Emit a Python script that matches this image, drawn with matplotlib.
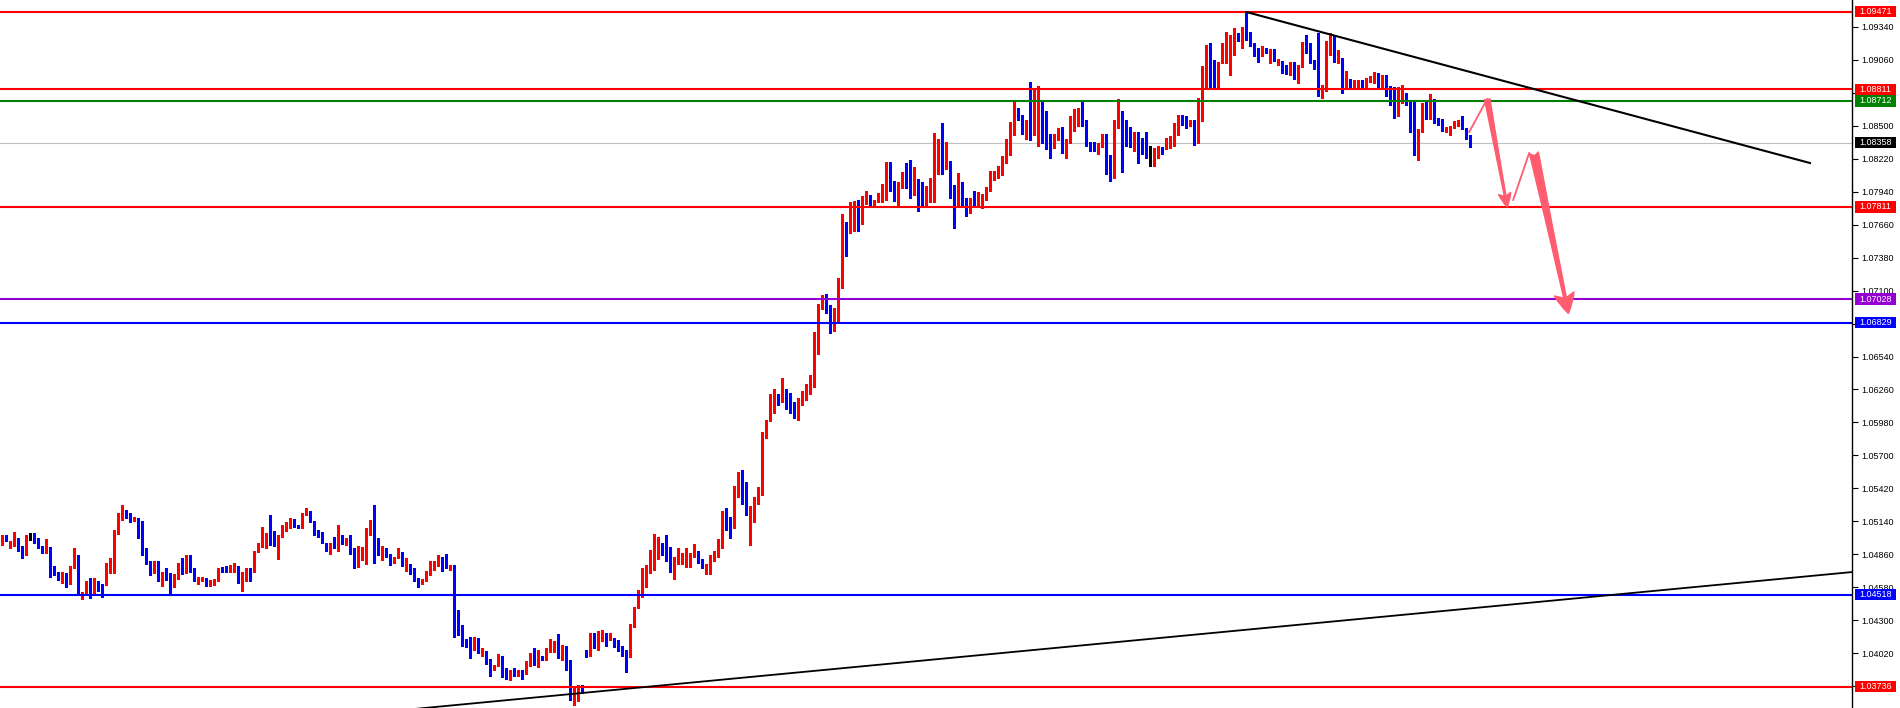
import numpy as np
import matplotlib.pyplot as plt
from matplotlib.patches import Rectangle
import matplotlib.transforms as mtransforms

plt.rcParams['font.family'] = ['Liberation Sans', 'DejaVu Sans']

# candle data (oldest first)
opens = [
    1.0500, 1.0502, 1.0491, 1.0494, 1.0500, 1.0490, 1.0485, 1.0501, 1.0502, 1.0498,
    1.0493, 1.0487, 1.0491, 1.0476, 1.0468, 1.0464, 1.0468, 1.0461, 1.0474, 1.0481,
    1.0452, 1.0453, 1.0462, 1.0458, 1.0462, 1.0460, 1.0470, 1.0471, 1.0472, 1.0503,
    1.0517, 1.0522, 1.0519, 1.0515, 1.0516, 1.0508, 1.0491, 1.0480, 1.0470, 1.0480,
    1.0467, 1.0468, 1.0466, 1.0459, 1.0467, 1.0477, 1.0471, 1.0480, 1.0474, 1.0464,
    1.0464, 1.0465, 1.0460, 1.0462, 1.0464, 1.0474, 1.0473, 1.0472, 1.04755, 1.0476,
    1.0463, 1.0468, 1.0473, 1.0471, 1.0488, 1.0493, 1.0499, 1.0502, 1.04975, 1.0497,
    1.0501, 1.0507, 1.0509, 1.0516, 1.0510, 1.0510, 1.0519, 1.0522, 1.0514, 1.0506,
    1.0505, 1.0496, 1.0490, 1.0493, 1.0493, 1.0502, 1.0496, 1.0497, 1.0491, 1.0476,
    1.0482, 1.0489, 1.0505, 1.0513, 1.0492, 1.0486, 1.0491, 1.0485, 1.0480, 1.0484,
    1.0487, 1.0476, 1.0478, 1.0470, 1.0465, 1.0462, 1.0464, 1.0470, 1.0474, 1.0478,
    1.0483, 1.0481, 1.0475, 1.0476, 1.0422, 1.0418, 1.0413, 1.0413, 1.0405, 1.0415,
    1.0402, 1.0404, 1.0396, 1.0388, 1.0391, 1.0400, 1.0383, 1.0380, 1.0386, 1.0384,
    1.0387, 1.0385, 1.0393, 1.0400, 1.0393, 1.0398, 1.0396, 1.0403, 1.0405, 1.0408,
    1.0396, 1.0400, 1.0395, 1.0364, 1.0365, 1.0372, 1.0402, 1.0400, 1.0411, 1.0407,
    1.0418, 1.0418, 1.0414, 1.0415, 1.0412, 1.0408, 1.0405, 1.0399, 1.0425, 1.0440,
    1.0451, 1.0468, 1.0470, 1.0480, 1.0483, 1.0495, 1.0489, 1.0486, 1.0471, 1.0480,
    1.0483, 1.04835, 1.0483, 1.0486, 1.0488, 1.0480, 1.0475, 1.0476, 1.0482, 1.0484,
    1.0491, 1.0517, 1.0511, 1.0510, 1.0542, 1.0551, 1.0537, 1.0519, 1.0524, 1.0532,
    1.0540, 1.0589, 1.0599, 1.0606, 1.0622, 1.0616, 1.0622, 1.0620, 1.0611, 1.0602,
    1.0617, 1.0617, 1.0629, 1.0630, 1.0674, 1.0696, 1.0704, 1.0696, 1.0677, 1.0693,
    1.0714, 1.0765, 1.0763, 1.0764, 1.0783, 1.0772, 1.0787, 1.0791, 1.0783, 1.0786,
    1.07915, 1.0792, 1.0814, 1.0803, 1.0787, 1.0801, 1.0809, 1.0801, 1.0797, 1.0799,
    1.0798, 1.0789, 1.0797, 1.0798, 1.0824, 1.0836, 1.0814, 1.0815, 1.0795, 1.0781,
    1.0800, 1.0785, 1.0778, 1.0787, 1.0785, 1.0785, 1.0788, 1.0797, 1.0804, 1.0810,
    1.0811, 1.0821, 1.0827, 1.0849, 1.0860, 1.0859, 1.0847, 1.0853, 1.0843, 1.0852,
    1.0869, 1.0857, 1.0842, 1.0838, 1.0840, 1.0846, 1.0829, 1.0836, 1.0847, 1.0859,
    1.0863, 1.0851, 1.0836, 1.0830, 1.0829, 1.0833, 1.0836, 1.0821, 1.0808, 1.0849,
    1.0860, 1.0849, 1.0842, 1.0833, 1.0843, 1.0836, 1.0829, 1.0828, 1.0828, 1.0830,
    1.0832, 1.0830, 1.0833, 1.0838, 1.0850, 1.0857, 1.0856, 1.08525, 1.0854, 1.0836,
    1.0855, 1.0889, 1.0916, 1.0905, 1.0889, 1.0903, 1.0917, 1.0917, 1.0917, 1.0927,
    1.0924, 1.0934, 1.0930, 1.0919, 1.0915, 1.0909, 1.0915, 1.0907, 1.0908, 1.0903,
    1.0904, 1.0900, 1.0894, 1.0903, 1.0890, 1.0900, 1.0921, 1.0913, 1.0905, 1.0900,
    1.0876, 1.0881, 1.0912, 1.0924, 1.0904, 1.0906, 1.0883, 1.0889, 1.0882, 1.0884,
    1.0888, 1.0883, 1.0888, 1.0888, 1.0893, 1.0883, 1.0892, 1.0883, 1.0874, 1.0864,
    1.0872, 1.0877, 1.0871, 1.0855, 1.0833, 1.0846, 1.0864, 1.0857, 1.0872, 1.0854,
    1.0853, 1.0847, 1.0848, 1.0849, 1.0851, 1.0853, 1.0847, 1.0840,
]
highs = [
    1.0502, 1.0502, 1.0497, 1.0505, 1.0500, 1.0493, 1.0502, 1.0504, 1.0504, 1.0500,
    1.0493, 1.0499, 1.0492, 1.0476, 1.0471, 1.0471, 1.0470, 1.0476, 1.0491, 1.0485,
    1.0454, 1.0463, 1.0466, 1.0466, 1.0463, 1.0461, 1.0479, 1.0483, 1.0507, 1.0521,
    1.0528, 1.0524, 1.0521, 1.0518, 1.0517, 1.0514, 1.0491, 1.0480, 1.0480, 1.0480,
    1.0471, 1.0474, 1.0470, 1.0469, 1.0479, 1.0483, 1.0485, 1.0485, 1.0474, 1.0467,
    1.0467, 1.0466, 1.0464, 1.0465, 1.0474, 1.0475, 1.0476, 1.0477, 1.0479, 1.0476,
    1.0471, 1.0474, 1.0474, 1.0489, 1.0496, 1.0509, 1.0504, 1.0519, 1.0506, 1.0502,
    1.0511, 1.0513, 1.0517, 1.0516, 1.0511, 1.0521, 1.0525, 1.0523, 1.0514, 1.0507,
    1.0505, 1.0496, 1.0496, 1.0501, 1.0511, 1.0502, 1.0500, 1.0502, 1.0491, 1.0493,
    1.0492, 1.0508, 1.0515, 1.0528, 1.0500, 1.0493, 1.0491, 1.0486, 1.0484, 1.0491,
    1.0488, 1.0483, 1.0478, 1.0474, 1.0466, 1.0465, 1.0472, 1.0480, 1.0480, 1.0485,
    1.0484, 1.0486, 1.0477, 1.0477, 1.0439, 1.0426, 1.0414, 1.0416, 1.0416, 1.0415,
    1.0406, 1.0404, 1.0397, 1.0392, 1.0401, 1.0400, 1.0389, 1.0388, 1.0389, 1.0388,
    1.0388, 1.0395, 1.0402, 1.0406, 1.0405, 1.0400, 1.0406, 1.0414, 1.0412, 1.0418,
    1.0409, 1.0408, 1.0396, 1.0372, 1.0375, 1.0375, 1.0405, 1.0419, 1.0419, 1.0421,
    1.0422, 1.0419, 1.0419, 1.0415, 1.0413, 1.0408, 1.0405, 1.0427, 1.0441, 1.0456,
    1.0474, 1.0477, 1.0490, 1.0503, 1.0501, 1.0496, 1.0502, 1.0492, 1.0484, 1.0491,
    1.0487, 1.0491, 1.0487, 1.0495, 1.0489, 1.0482, 1.0478, 1.0485, 1.0489, 1.0499,
    1.0523, 1.0525, 1.0518, 1.0544, 1.0556, 1.0558, 1.0547, 1.0527, 1.0535, 1.0543,
    1.0590, 1.0600, 1.0622, 1.0626, 1.0622, 1.0636, 1.0626, 1.0623, 1.0615, 1.0619,
    1.0625, 1.0631, 1.0638, 1.0675, 1.0699, 1.0706, 1.0707, 1.0698, 1.0695, 1.0721,
    1.0775, 1.0768, 1.0785, 1.0786, 1.0787, 1.0790, 1.0795, 1.0791, 1.0787, 1.0793,
    1.0801, 1.0819, 1.0819, 1.0803, 1.0802, 1.0811, 1.0818, 1.0821, 1.0815, 1.0805,
    1.0802, 1.0799, 1.0806, 1.0844, 1.0839, 1.0852, 1.0836, 1.0820, 1.0800, 1.0810,
    1.0802, 1.0789, 1.0789, 1.0795, 1.0794, 1.0792, 1.0798, 1.0812, 1.0812, 1.0816,
    1.0824, 1.0839, 1.0853, 1.0870, 1.0865, 1.0859, 1.0855, 1.0887, 1.0881, 1.0884,
    1.0870, 1.0863, 1.0843, 1.0843, 1.0848, 1.0849, 1.0839, 1.0858, 1.0864, 1.0865,
    1.0871, 1.0855, 1.0836, 1.0836, 1.0835, 1.0843, 1.0843, 1.0825, 1.0855, 1.0873,
    1.0863, 1.0855, 1.0849, 1.0845, 1.0845, 1.0840, 1.0845, 1.0833, 1.0831, 1.0833,
    1.0832, 1.0840, 1.0841, 1.0852, 1.0859, 1.0859, 1.0858, 1.0855, 1.0855, 1.0874,
    1.0901, 1.0919, 1.0920, 1.0906, 1.0904, 1.0920, 1.0930, 1.0927, 1.0933, 1.0929,
    1.0934, 1.0947, 1.0930, 1.0920, 1.0916, 1.0918, 1.0916, 1.0915, 1.0915, 1.0907,
    1.0905, 1.0902, 1.0904, 1.0904, 1.0902, 1.0921, 1.0927, 1.0920, 1.0906, 1.0929,
    1.0885, 1.0922, 1.0929, 1.0926, 1.0914, 1.0908, 1.0897, 1.0890, 1.0889, 1.0889,
    1.0889, 1.0891, 1.0892, 1.0896, 1.0895, 1.0893, 1.0893, 1.0884, 1.0883, 1.0883,
    1.0885, 1.0878, 1.0872, 1.0872, 1.0847, 1.0869, 1.0872, 1.0877, 1.0873, 1.0857,
    1.0856, 1.0849, 1.0850, 1.0854, 1.0855, 1.0858, 1.0848, 1.0842,
]
lows = [
    1.0494, 1.0497, 1.0491, 1.0493, 1.0489, 1.0483, 1.0485, 1.0498, 1.0496, 1.0491,
    1.0487, 1.0487, 1.0467, 1.0468, 1.0464, 1.0462, 1.0458, 1.0461, 1.0474, 1.0451,
    1.0448, 1.0452, 1.0449, 1.0452, 1.0455, 1.0450, 1.0460, 1.0470, 1.0470, 1.0503,
    1.0515, 1.0517, 1.0513, 1.0514, 1.0500, 1.0485, 1.0478, 1.0468, 1.0470, 1.0463,
    1.0459, 1.0464, 1.0453, 1.0458, 1.0465, 1.0469, 1.0470, 1.0471, 1.0463, 1.0461,
    1.0463, 1.0459, 1.0459, 1.0460, 1.0463, 1.0471, 1.0471, 1.0471, 1.0471, 1.0462,
    1.0455, 1.0463, 1.0463, 1.0471, 1.0488, 1.0492, 1.0491, 1.0494, 1.0493, 1.0482,
    1.0501, 1.0506, 1.0508, 1.0509, 1.0508, 1.0508, 1.0519, 1.0513, 1.0502, 1.0501,
    1.0496, 1.0489, 1.0486, 1.0491, 1.0489, 1.0495, 1.0494, 1.0486, 1.0474, 1.0475,
    1.0481, 1.0478, 1.0502, 1.0479, 1.0485, 1.0481, 1.0484, 1.0477, 1.0479, 1.0483,
    1.0476, 1.0472, 1.0469, 1.0463, 1.0458, 1.0461, 1.0463, 1.0468, 1.0473, 1.0476,
    1.0472, 1.0474, 1.0473, 1.0416, 1.0417, 1.0408, 1.0407, 1.0398, 1.0405, 1.0402,
    1.0400, 1.0393, 1.0383, 1.0388, 1.0391, 1.0382, 1.0380, 1.0379, 1.0383, 1.0383,
    1.0380, 1.0384, 1.0391, 1.0392, 1.0390, 1.0396, 1.0396, 1.0403, 1.0403, 1.0398,
    1.0396, 1.0388, 1.0362, 1.0358, 1.0361, 1.0368, 1.0399, 1.0400, 1.0406, 1.0405,
    1.0412, 1.0408, 1.0413, 1.0407, 1.0404, 1.0400, 1.0386, 1.0399, 1.0424, 1.0440,
    1.0450, 1.0458, 1.0470, 1.0473, 1.0482, 1.0485, 1.0480, 1.0471, 1.0465, 1.0478,
    1.0478, 1.0475, 1.0475, 1.0484, 1.0479, 1.0474, 1.0469, 1.0469, 1.0480, 1.0484,
    1.0491, 1.0507, 1.0500, 1.0508, 1.0535, 1.0529, 1.0519, 1.0494, 1.0513, 1.0529,
    1.0536, 1.0585, 1.0599, 1.0606, 1.0613, 1.0615, 1.0609, 1.0606, 1.0602, 1.0600,
    1.0613, 1.0617, 1.0622, 1.0628, 1.0656, 1.0694, 1.0691, 1.0674, 1.0676, 1.0683,
    1.0712, 1.0739, 1.0759, 1.0761, 1.0761, 1.0767, 1.0784, 1.0783, 1.0783, 1.0785,
    1.0785, 1.0787, 1.0795, 1.0786, 1.0781, 1.0797, 1.0797, 1.0789, 1.0791, 1.0778,
    1.0782, 1.0781, 1.0785, 1.0785, 1.0809, 1.0809, 1.0813, 1.0789, 1.0763, 1.0781,
    1.0783, 1.0773, 1.0776, 1.0782, 1.0782, 1.0780, 1.0787, 1.0795, 1.0804, 1.0806,
    1.0808, 1.0818, 1.0825, 1.0842, 1.0855, 1.0843, 1.0839, 1.0838, 1.0842, 1.0833,
    1.0835, 1.0830, 1.0823, 1.0831, 1.0838, 1.0827, 1.0823, 1.0835, 1.0846, 1.0850,
    1.0850, 1.0833, 1.0829, 1.0829, 1.0826, 1.0832, 1.0809, 1.0803, 1.0806, 1.0848,
    1.0811, 1.0833, 1.0832, 1.0829, 1.0818, 1.0826, 1.0823, 1.0816, 1.0816, 1.0823,
    1.0826, 1.0830, 1.0831, 1.0833, 1.0842, 1.0851, 1.0848, 1.0850, 1.0834, 1.0835,
    1.0854, 1.0881, 1.0882, 1.0882, 1.0881, 1.0903, 1.0903, 1.0893, 1.0910, 1.0922,
    1.0916, 1.0923, 1.0918, 1.0909, 1.0904, 1.0909, 1.0912, 1.0903, 1.0905, 1.0902,
    1.0895, 1.0894, 1.0893, 1.0890, 1.0886, 1.0900, 1.0912, 1.0903, 1.0898, 1.0875,
    1.0874, 1.0880, 1.0910, 1.0904, 1.0903, 1.0878, 1.0882, 1.0882, 1.0882, 1.0883,
    1.0883, 1.0883, 1.0887, 1.0886, 1.0881, 1.0881, 1.0875, 1.0868, 1.0857, 1.0858,
    1.0869, 1.0868, 1.0845, 1.0825, 1.0821, 1.0845, 1.0856, 1.0856, 1.0852, 1.0851,
    1.0846, 1.0845, 1.0842, 1.0848, 1.0850, 1.0847, 1.0839, 1.0832,
]
closes = [
    1.0502, 1.0497, 1.0495, 1.0500, 1.0489, 1.0485, 1.0502, 1.0501, 1.0498, 1.0492,
    1.0488, 1.0492, 1.0476, 1.0468, 1.0464, 1.0468, 1.0461, 1.0474, 1.0481, 1.0452,
    1.0454, 1.0462, 1.0459, 1.0462, 1.0459, 1.0452, 1.0473, 1.0474, 1.0503, 1.0517,
    1.0522, 1.0518, 1.0515, 1.0516, 1.0508, 1.0490, 1.0479, 1.0470, 1.0480, 1.0467,
    1.0468, 1.0465, 1.0459, 1.0468, 1.0477, 1.0471, 1.0479, 1.0474, 1.0464, 1.0465,
    1.0465, 1.0460, 1.0463, 1.0465, 1.0474, 1.0472, 1.0472, 1.0476, 1.0476, 1.0463,
    1.0469, 1.0473, 1.0471, 1.0489, 1.0493, 1.0499, 1.0502, 1.0497, 1.0497, 1.0502,
    1.0508, 1.0510, 1.0516, 1.0510, 1.05095, 1.0519, 1.0522, 1.0513, 1.0505, 1.0504,
    1.0496, 1.0489, 1.0494, 1.0492, 1.0502, 1.0496, 1.0498, 1.0491, 1.0475, 1.0484,
    1.0489, 1.0505, 1.0513, 1.0488, 1.0486, 1.0491, 1.0485, 1.0480, 1.0484, 1.0487,
    1.0476, 1.0478, 1.0470, 1.0464, 1.0461, 1.0464, 1.0471, 1.0474, 1.0478, 1.0484,
    1.0481, 1.0475, 1.0476, 1.0421, 1.0417, 1.0412, 1.0412, 1.0405, 1.0415, 1.0403,
    1.0404, 1.0393, 1.0390, 1.0392, 1.0400, 1.0383, 1.0380, 1.0387, 1.0384, 1.0387,
    1.0384, 1.0395, 1.0400, 1.0393, 1.0399, 1.0397, 1.0405, 1.0406, 1.0408, 1.0398,
    1.0400, 1.0395, 1.0365, 1.0368, 1.0372, 1.0370, 1.0400, 1.0411, 1.0407, 1.0418,
    1.0419, 1.0414, 1.0416, 1.0407, 1.0405, 1.0403, 1.0399, 1.0425, 1.0440, 1.0452,
    1.0469, 1.0470, 1.0481, 1.0483, 1.0495, 1.0489, 1.0485, 1.0471, 1.0481, 1.0483,
    1.0484, 1.0484, 1.0487, 1.0487, 1.0479, 1.0476, 1.0477, 1.0483, 1.0485, 1.0491,
    1.0517, 1.0510, 1.0510, 1.0542, 1.0552, 1.0536, 1.0519, 1.0525, 1.0532, 1.0540,
    1.0589, 1.0600, 1.0607, 1.0622, 1.0615, 1.0622, 1.0619, 1.0611, 1.0602, 1.0617,
    1.0618, 1.0630, 1.0631, 1.0674, 1.0697, 1.0704, 1.0696, 1.0677, 1.0694, 1.0714,
    1.0765, 1.0763, 1.0765, 1.0783, 1.0772, 1.0789, 1.0791, 1.0784, 1.0787, 1.0793,
    1.0792, 1.0814, 1.0803, 1.0787, 1.0802, 1.0809, 1.0801, 1.0797, 1.0800, 1.0798,
    1.0791, 1.0798, 1.0798, 1.0825, 1.0836, 1.0815, 1.0816, 1.0795, 1.0781, 1.0800,
    1.0784, 1.0777, 1.0787, 1.0785, 1.0786, 1.0788, 1.0797, 1.0804, 1.0811, 1.0812,
    1.0822, 1.0828, 1.0849, 1.0860, 1.0859, 1.0847, 1.0853, 1.0843, 1.0852, 1.0868,
    1.0857, 1.0841, 1.0838, 1.0841, 1.0846, 1.0828, 1.0837, 1.0848, 1.0859, 1.0863,
    1.0850, 1.0834, 1.0829, 1.0829, 1.0833, 1.0836, 1.0820, 1.0808, 1.0849, 1.0860,
    1.0849, 1.0842, 1.0833, 1.0843, 1.0835, 1.0829, 1.0828, 1.0828, 1.0831, 1.0831,
    1.0830, 1.0833, 1.0838, 1.0851, 1.0858, 1.0855, 1.0852, 1.0853, 1.0837, 1.0856,
    1.0890, 1.0917, 1.0900, 1.0889, 1.0903, 1.0917, 1.0918, 1.0919, 1.0926, 1.0924,
    1.0934, 1.0929, 1.0918, 1.0915, 1.0908, 1.0917, 1.0913, 1.0913, 1.0905, 1.0907,
    1.0896, 1.0896, 1.0903, 1.0890, 1.0902, 1.0920, 1.0912, 1.0905, 1.0899, 1.0876,
    1.0882, 1.0921, 1.0923, 1.0905, 1.0906, 1.0883, 1.0889, 1.0883, 1.0885, 1.0888,
    1.0883, 1.0890, 1.0891, 1.0894, 1.0888, 1.0892, 1.0876, 1.0873, 1.0864, 1.0872,
    1.0878, 1.0869, 1.0855, 1.0833, 1.0847, 1.0864, 1.0857, 1.0872, 1.0853, 1.0852,
    1.0847, 1.0849, 1.0850, 1.0852, 1.0854, 1.0847, 1.0840, 1.0836,
]

# price scale ticks on the right (labels hidden under the price tags are left blank)
tick_prices = [1.09340, 1.09060, 1.08780, 1.08500, 1.08220, 1.07940, 1.07660,
               1.07380, 1.07100, 1.06820, 1.06540, 1.06260, 1.05980, 1.05700,
               1.05420, 1.05140, 1.04860, 1.04580, 1.04300, 1.04020, 1.03740]
hidden_ticks = [1.08780, 1.06820, 1.03740]

# horizontal levels and their price tags
level_prices = [1.09471, 1.08811, 1.08712, 1.07811, 1.07028, 1.06829, 1.04518, 1.03736]
level_colors = ['#ff0000', '#ff0000', '#008000', '#ff0000', '#9400d3', '#0000ff', '#0000ff', '#ff0000']
current_price = 1.08358

# trend lines (bar index, price)
trend_down_x = [311, 451.9]
trend_down_y = [1.09467, 1.08184]
trend_up_x = [100.0, 462.4]
trend_up_y = [1.03536, 1.04709]

# projected path (bar index, price)
path_x = [366.7, 371.2, 376.2, 377.7, 381.7, 382.9, 391.5]
path_y = [1.08447, 1.08728, 1.07810, 1.07870, 1.08269, 1.08269, 1.06907]

RED = '#ff0000'
BLUE = '#0000ff'
PINK = '#ff5c70'

fig = plt.figure(figsize=(19, 7.08), dpi=100, facecolor='white')
ax = fig.add_axes([0, 0, 1852 / 1900, 1])

o = np.array(opens)
h = np.array(highs)
l = np.array(lows)
c = np.array(closes)
x = np.arange(len(o))
cols = np.where(c > o, RED, np.where(c < o, BLUE, '#000000'))

ax.axhline(current_price, color='#c0c0c0', lw=0.8, zorder=1)

ax.vlines(x, l, h, colors=cols, lw=0.75, antialiased=False, zorder=2)
body_lo = np.minimum(o, c)
body_h = np.maximum(np.abs(c - o), 0.0001)
ax.bar(x, body_h, bottom=body_lo, width=0.72, color=cols, linewidth=0,
       antialiased=False, zorder=3)

for p, col in zip(level_prices, level_colors):
    ax.axhline(p, color=col, lw=1.5, zorder=4)

ax.plot(trend_down_x, trend_down_y, color='black', lw=1.5, zorder=5)
ax.plot(trend_up_x, trend_up_y, color='black', lw=1.3, zorder=5)

# projection arrows
ax.plot(path_x[0:2], path_y[0:2], color=PINK, lw=1.3, zorder=6)
ax.annotate('', xy=(path_x[2], path_y[2]), xytext=(path_x[1], path_y[1]),
            arrowprops=dict(arrowstyle='fancy,head_length=0.45,head_width=0.4,tail_width=0.18',
                            color=PINK, shrinkA=0, shrinkB=0, mutation_scale=22), zorder=6)
ax.plot(path_x[3:5], path_y[3:5], color=PINK, lw=1.3, zorder=6)
ax.annotate('', xy=(path_x[6], path_y[6]), xytext=(path_x[5], path_y[5]),
            arrowprops=dict(arrowstyle='fancy,head_length=0.55,head_width=0.55,tail_width=0.25',
                            color=PINK, shrinkA=0, shrinkB=0, mutation_scale=26), zorder=6)

ax.set_xlim(-0.575, 462.4)
ax.set_ylim(1.03554, 1.09569)

for s in ['left', 'top', 'bottom']:
    ax.spines[s].set_visible(False)
ax.spines['right'].set_color('black')
ax.spines['right'].set_linewidth(1)
ax.set_xticks([])
ax.yaxis.tick_right()
ax.set_yticks(tick_prices)
ax.set_yticklabels(['' if p in hidden_ticks else '%.5f' % p for p in tick_prices])
ax.tick_params(axis='y', direction='out', length=4, width=0.8, pad=3,
               labelsize=6.5, colors='black')

# price tags on the scale
trans = mtransforms.blended_transform_factory(ax.transAxes, ax.transData)
tags = list(zip(level_prices, level_colors)) + [(current_price, '#000000')]
for p, col in tags:
    ax.add_patch(Rectangle((1.0016, p - 0.00048), 0.0222, 0.00096, transform=trans,
                           facecolor=col, edgecolor='none', clip_on=False, zorder=8))
    ax.text(1.0040, p, '%.5f' % p, transform=trans, color='white', fontsize=6.5,
            va='center', ha='left', clip_on=False, zorder=9)

fig.savefig('out.png', dpi=100, facecolor='white')
